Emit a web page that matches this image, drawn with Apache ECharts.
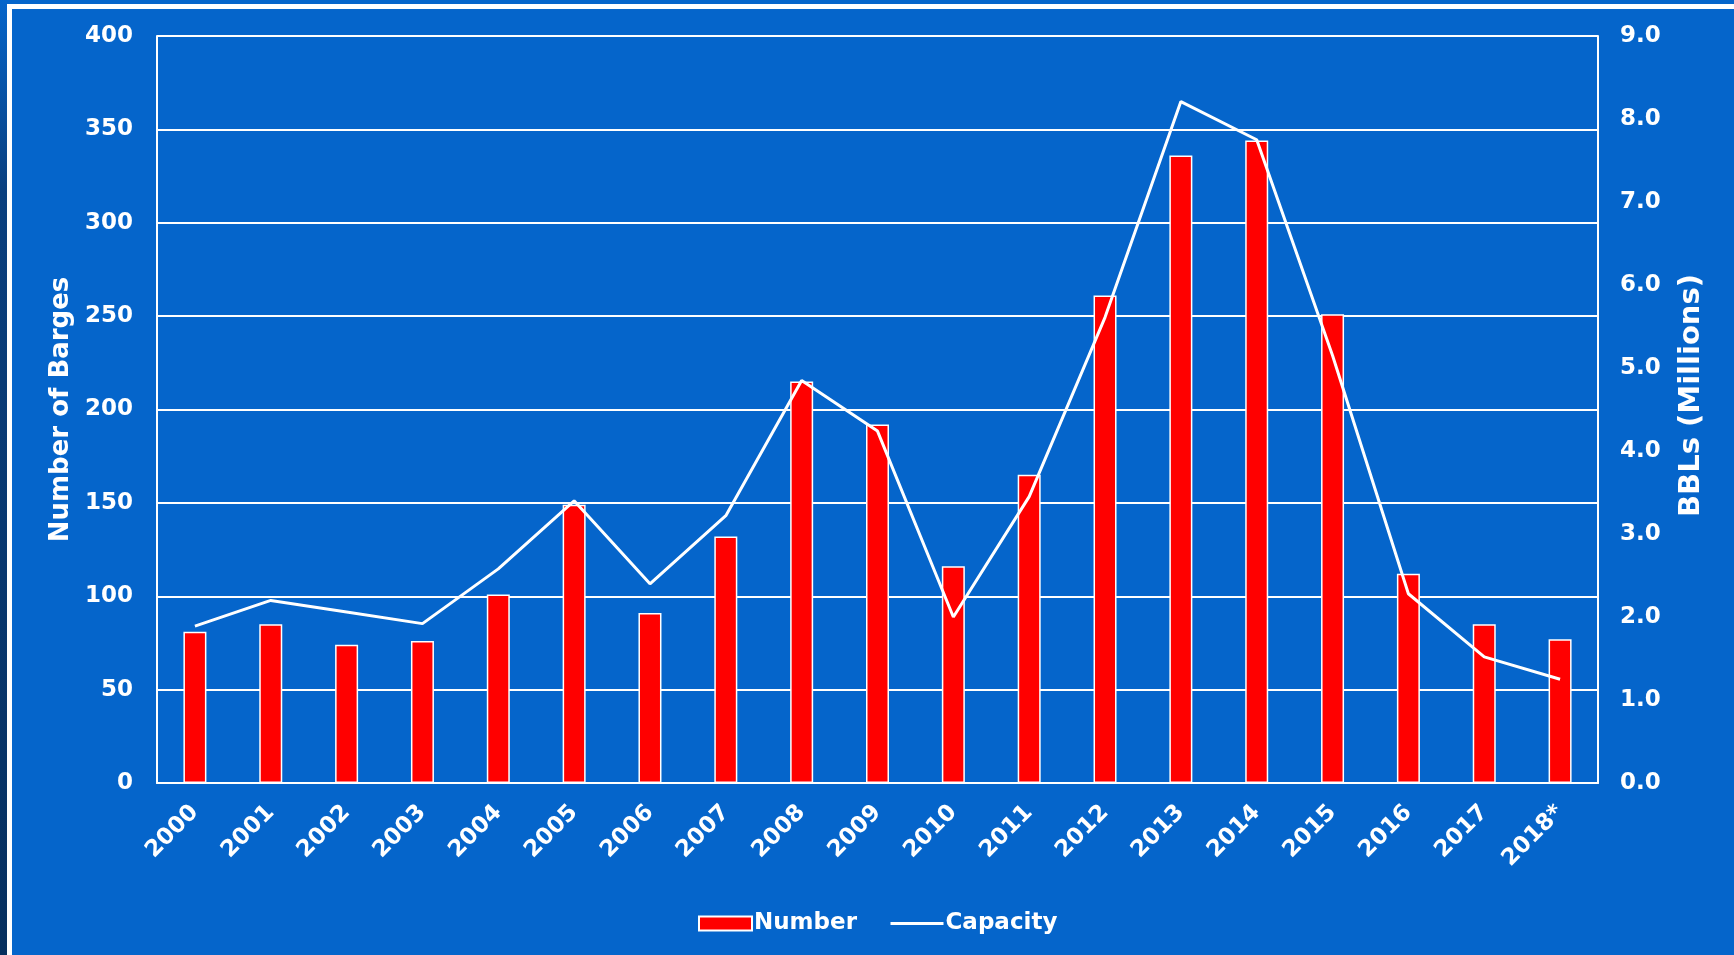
<!DOCTYPE html>
<html>
<head>
<meta charset="utf-8">
<script src="https://cdn.jsdelivr.net/npm/echarts@6/dist/echarts.min.js"></script>
<style>
html,body{margin:0;padding:0;background:#0565CB;}
#chart{width:1734px;height:955px;}
</style>
</head>
<body>
<div id="chart"></div>
<script>
const categories = ['2000','2001','2002','2003','2004','2005','2006','2007','2008','2009','2010','2011','2012','2013','2014','2015','2016','2017','2018*'];
const numberOfBarges = [81, 85, 74, 76, 101, 149, 91, 132, 215, 192, 116, 165, 261, 336, 344, 251, 112, 85, 77];
const capacityMillions = [1.89, 2.20, 2.06, 1.92, 2.58, 3.40, 2.40, 3.22, 4.85, 4.24, 2.00, 3.45, 5.61, 8.21, 7.75, 5.15, 2.28, 1.52, 1.25];
const leftAxisName = 'Number of Barges';
const rightAxisName = 'BBLs (Millions)';
const seriesNames = ['Number', 'Capacity'];

const FONT = '"DejaVu Sans", Verdana, sans-serif';
const chart = echarts.init(document.getElementById('chart'), null, {renderer: 'canvas'});
chart.setOption({
  backgroundColor: '#0565CB',
  animation: false,
  textStyle: {fontFamily: FONT, fontWeight: 'bold', color: '#fff'},
  graphic: [
    {type: 'rect', z: -1, shape: {x: 0, y: 0, width: 7, height: 955},
     style: {fill: new echarts.graphic.LinearGradient(0, 0, 0, 1, [
       {offset: 0, color: '#0565CB'}, {offset: 0.2, color: '#0A3F7E'}, {offset: 1, color: '#062F5E'}])}},
    {type: 'rect', z: -1, shape: {x: 9.5, y: 6.5, width: 2000, height: 2000},
     style: {fill: 'none', stroke: '#ffffff', lineWidth: 5}}
  ],
  grid: {left: 157, right: 136, top: 36, bottom: 172, containLabel: false},
  legend: {
    left: 693, top: 907,
    itemWidth: 53, itemHeight: 14, itemGap: 32,
    textStyle: {color: '#fff', fontSize: 23, fontWeight: 'bold', fontFamily: FONT, padding: [0, 0, 0, -3]},
    data: [
      {name: seriesNames[0], icon: 'rect'},
      {name: seriesNames[1], itemStyle: {opacity: 0, color: 'transparent', borderWidth: 0}, lineStyle: {color: '#ffffff', width: 3}}
    ]
  },
  xAxis: {
    type: 'category', data: categories,
    axisLine: {show: true, lineStyle: {color: '#fff', width: 2}},
    axisTick: {show: false},
    axisLabel: {rotate: 45, margin: 26, color: '#fff', fontSize: 23, fontWeight: 'bold', fontFamily: FONT, interval: 0}
  },
  yAxis: [
    {
      type: 'value', min: 0, max: 400, interval: 50,
      name: leftAxisName, nameLocation: 'middle', nameGap: 82, nameRotate: 90,
      nameTextStyle: {color: '#fff', fontSize: 26, fontWeight: 'bold', fontFamily: FONT},
      axisLine: {show: true, lineStyle: {color: '#fff', width: 2}},
      axisTick: {show: false},
      axisLabel: {margin: 24, color: '#fff', fontSize: 23, fontWeight: 'bold', fontFamily: FONT},
      splitLine: {show: true, lineStyle: {color: '#fff', width: 2}}
    },
    {
      type: 'value', min: 0, max: 9, interval: 1,
      name: rightAxisName, nameLocation: 'middle', nameGap: 79, nameRotate: 90,
      nameTextStyle: {color: '#fff', fontSize: 29, fontWeight: 'bold', fontFamily: FONT, padding: [0, 0, 0, 28]},
      axisLine: {show: true, lineStyle: {color: '#fff', width: 2}},
      axisTick: {show: false},
      axisLabel: {margin: 22, color: '#fff', fontSize: 23, fontWeight: 'bold', fontFamily: FONT,
        formatter: v => v.toFixed(1)},
      splitLine: {show: false}
    }
  ],
  series: [
    {
      name: seriesNames[0], type: 'bar', data: numberOfBarges, barWidth: 23,
      itemStyle: {color: '#FF0000', borderColor: '#ffffff', borderWidth: 1.5}
    },
    {
      name: seriesNames[1], type: 'line', yAxisIndex: 1, data: capacityMillions,
      showSymbol: false, symbol: 'none',
      lineStyle: {color: '#ffffff', width: 3},
      itemStyle: {color: '#ffffff'},
      z: 5
    }
  ]
});
</script>
</body>
</html>
